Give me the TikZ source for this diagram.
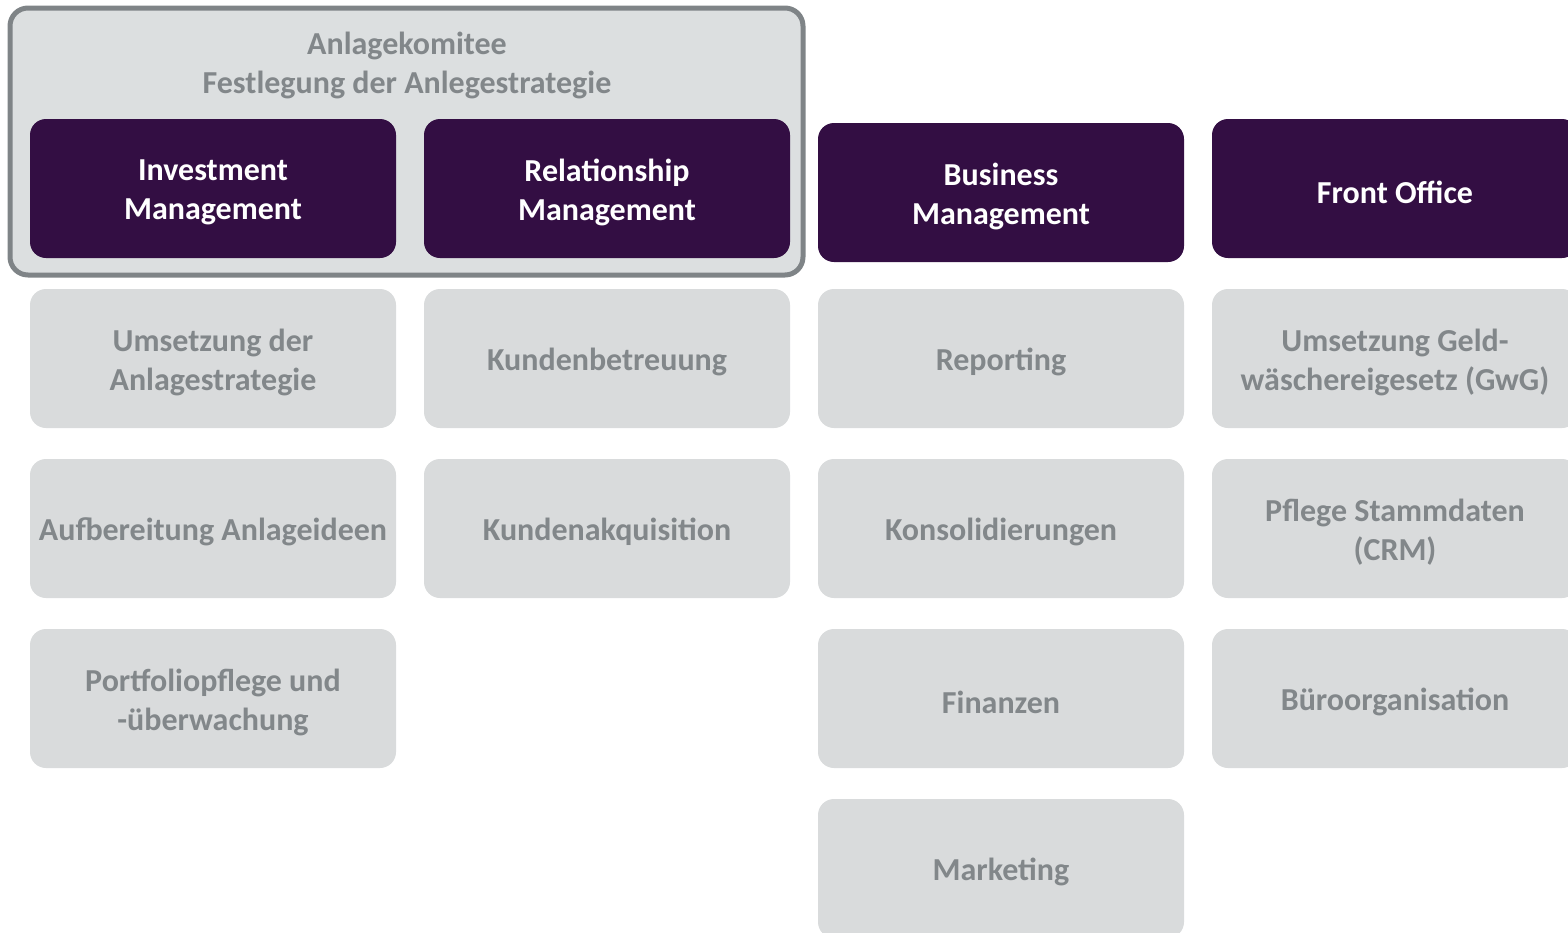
\documentclass[tikz,border=0pt]{standalone}
\usepackage{fontspec}
\setmainfont{Carlito}
\definecolor{purp}{HTML}{330E43}
\definecolor{boxgray}{HTML}{D9DBDC}
\definecolor{txtgray}{HTML}{82878A}
\definecolor{framegray}{HTML}{7F8487}
\definecolor{framefill}{HTML}{DCDFE0}
\begin{document}
\begin{tikzpicture}[x=1pt,y=-1pt,
  lbl/.style={font=\fontsize{32}{39}\selectfont\bfseries,align=center},
  box/.style={rounded corners=16pt,inner sep=0pt,minimum width=366pt,minimum height=139pt},
  hdr/.style={box,fill=purp,label={[lbl,text=white,yshift=-3.5pt]center:#1}},
  item/.style={box,fill=boxgray,label={[lbl,text=txtgray,yshift=-3.5pt]center:#1}},
  frame/.style={draw=framegray,line width=5pt,fill=framefill,rounded corners=18pt}]
\useasboundingbox (0,0) rectangle (1568,932);
\begin{scope}
\clip (0,0) rectangle (1568,932);
\draw[frame] (10,8) rectangle (803,275);
\node[lbl,text=txtgray] (komitee) at (407,65)
  {Anlagekomitee\\Festlegung der Anlegestrategie};
\node[hdr={Investment\\Management}] (im) at (213,188.5) {};
\node[hdr={Relationship\\Management}] (rm) at (607,188.5) {};
\node[hdr={Business\\Management}] (bm) at (1001,192.5) {};
\node[hdr={Front Office}] (fo) at (1395,188.5) {};
\node[item={Umsetzung der\\Anlagestrategie}] (a1) at (213,358.5) {};
\node[item={Aufbereitung Anlageideen}] (a2) at (213,528.5) {};
\node[item={Portfoliopflege und\\-überwachung}] (a3) at (213,698.5) {};
\node[item={Kundenbetreuung}] (b1) at (607,358.5) {};
\node[item={Kundenakquisition}] (b2) at (607,528.5) {};
\node[item={Reporting}] (c1) at (1001,358.5) {};
\node[item={Konsolidierungen}] (c2) at (1001,528.5) {};
\node[item={Finanzen}] (c3) at (1001,698.5) {};
\node[item={Marketing}] (c4) at (1001,868.5) {};
\node[item={Umsetzung Geld-\\wäschereigesetz (GwG)}] (d1) at (1395,358.5) {};
\node[item={Pflege Stammdaten\\(CRM)}] (d2) at (1395,528.5) {};
\node[item={Büroorganisation}] (d3) at (1395,698.5) {};
\end{scope}
\end{tikzpicture}
\end{document}
